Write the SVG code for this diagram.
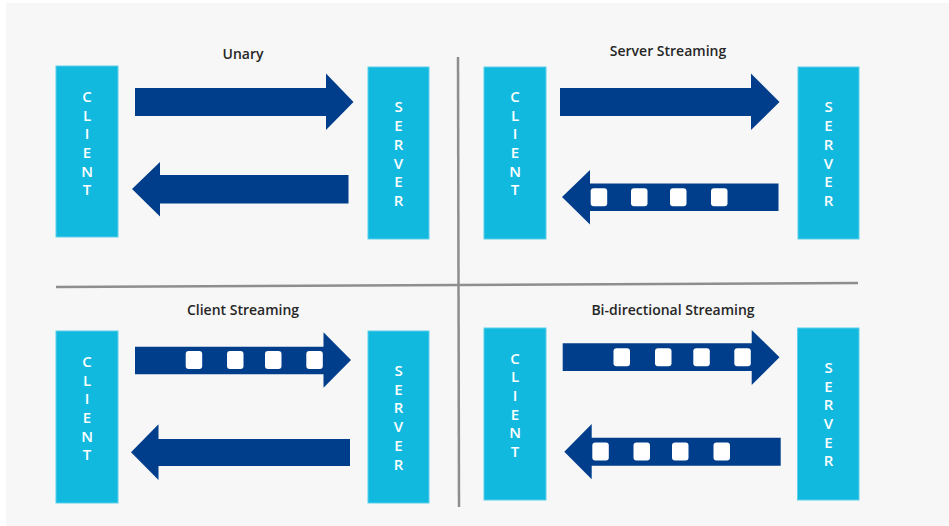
<svg xmlns="http://www.w3.org/2000/svg" width="949" height="526" viewBox="0 0 949 526">
  <style>
    .box { fill: #12b9df; stroke: #5ccfea; stroke-width: 1; }
    .arrow { fill: #003e8c; }
    .pkt { fill: #ffffff; }
    .title { font-family: "Open Sans", "Liberation Sans", sans-serif; font-weight: 600; font-size: 14px; fill: #262626; text-anchor: middle; }
    .vlabel { font-family: "Open Sans", "Liberation Sans", sans-serif; font-weight: 600; font-size: 15px; fill: #ffffff; text-anchor: middle; }
    .divider { stroke: #8e8e8e; stroke-width: 2.5; fill: none; }
  </style>
  <defs>
    <rect id="pkt" class="pkt" width="16.5" height="18" rx="3" ry="3"/>
  </defs>

  <!-- page -->
  <rect x="0" y="0" width="949" height="526" fill="#ffffff"/>
  <rect x="6" y="3" width="943" height="523" fill="#f7f7f7"/>

  <!-- quadrant dividers -->
  <g id="dividers">
    <line class="divider" x1="458" y1="57" x2="459" y2="507"/>
    <line class="divider" x1="56" y1="287" x2="858" y2="283"/>
  </g>

  <!-- titles -->
  <g id="titles">
    <text class="title" x="243" y="59">Unary</text>
    <text class="title" x="668" y="56">Server Streaming</text>
    <text class="title" x="243" y="315">Client Streaming</text>
    <text class="title" x="673" y="315">Bi-directional Streaming</text>
  </g>

  <!-- Unary -->
  <g id="unary-client">
    <rect class="box" x="56" y="66" width="62" height="171"/>
    <text class="vlabel" x="87" y="102">C</text>
    <text class="vlabel" x="87" y="120.5">L</text>
    <text class="vlabel" x="87" y="139">I</text>
    <text class="vlabel" x="87" y="158">E</text>
    <text class="vlabel" x="87" y="176.5">N</text>
    <text class="vlabel" x="87" y="195">T</text>
  </g>
  <g id="unary-server">
    <rect class="box" x="368" y="67" width="61" height="172"/>
    <text class="vlabel" x="398.5" y="112">S</text>
    <text class="vlabel" x="398.5" y="131">E</text>
    <text class="vlabel" x="398.5" y="149.5">R</text>
    <text class="vlabel" x="398.5" y="168.5">V</text>
    <text class="vlabel" x="398.5" y="187">E</text>
    <text class="vlabel" x="398.5" y="206">R</text>
  </g>

  <!-- Server Streaming -->
  <g id="ss-client">
    <rect class="box" x="484" y="67" width="62" height="172"/>
    <text class="vlabel" x="515" y="102">C</text>
    <text class="vlabel" x="515" y="120.5">L</text>
    <text class="vlabel" x="515" y="139">I</text>
    <text class="vlabel" x="515" y="158">E</text>
    <text class="vlabel" x="515" y="176.5">N</text>
    <text class="vlabel" x="515" y="195">T</text>
  </g>
  <g id="ss-server">
    <rect class="box" x="798" y="67" width="61" height="172"/>
    <text class="vlabel" x="828.5" y="112">S</text>
    <text class="vlabel" x="828.5" y="131">E</text>
    <text class="vlabel" x="828.5" y="149.5">R</text>
    <text class="vlabel" x="828.5" y="168.5">V</text>
    <text class="vlabel" x="828.5" y="187">E</text>
    <text class="vlabel" x="828.5" y="206">R</text>
  </g>

  <!-- Client Streaming -->
  <g id="cs-client">
    <rect class="box" x="56" y="331" width="62" height="172"/>
    <text class="vlabel" x="87" y="367">C</text>
    <text class="vlabel" x="87" y="385.5">L</text>
    <text class="vlabel" x="87" y="404">I</text>
    <text class="vlabel" x="87" y="423">E</text>
    <text class="vlabel" x="87" y="441.5">N</text>
    <text class="vlabel" x="87" y="460">T</text>
  </g>
  <g id="cs-server">
    <rect class="box" x="368" y="331" width="61" height="172"/>
    <text class="vlabel" x="398.5" y="376">S</text>
    <text class="vlabel" x="398.5" y="394.5">E</text>
    <text class="vlabel" x="398.5" y="413">R</text>
    <text class="vlabel" x="398.5" y="432">V</text>
    <text class="vlabel" x="398.5" y="450.5">E</text>
    <text class="vlabel" x="398.5" y="469.5">R</text>
  </g>

  <!-- Bi-directional Streaming -->
  <g id="bidi-client">
    <rect class="box" x="484" y="328" width="62" height="172"/>
    <text class="vlabel" x="515" y="363.5">C</text>
    <text class="vlabel" x="515" y="382">L</text>
    <text class="vlabel" x="515" y="400.5">I</text>
    <text class="vlabel" x="515" y="419.5">E</text>
    <text class="vlabel" x="515" y="438">N</text>
    <text class="vlabel" x="515" y="457">T</text>
  </g>
  <g id="bidi-server">
    <rect class="box" x="797.5" y="328" width="61.5" height="172"/>
    <text class="vlabel" x="828.5" y="373">S</text>
    <text class="vlabel" x="828.5" y="391.5">E</text>
    <text class="vlabel" x="828.5" y="410">R</text>
    <text class="vlabel" x="828.5" y="429">V</text>
    <text class="vlabel" x="828.5" y="447.5">E</text>
    <text class="vlabel" x="828.5" y="466">R</text>
  </g>

  <!-- connectors: block arrows, with message packets on streaming legs -->
  <g id="connectors">
    <!-- Unary -->
    <polygon class="arrow" points="135,88 326,88 326,73.5 353.5,102 326,130 326,116 135,116"/>
    <polygon class="arrow" points="348.5,175 160,175 160,162 132,189 160,216.5 160,203.5 348.5,203.5"/>

    <!-- Server Streaming -->
    <polygon class="arrow" points="560,88 751,88 751,73.5 779.5,102 751,130 751,116 560,116"/>
    <polygon class="arrow" points="778.5,183.5 590,183.5 590,170 562,197 590,224.5 590,211 778.5,211"/>
    <use href="#pkt" x="590.7" y="188.3"/>
    <use href="#pkt" x="631" y="188.3"/>
    <use href="#pkt" x="670" y="188.3"/>
    <use href="#pkt" x="711" y="188.3"/>

    <!-- Client Streaming -->
    <polygon class="arrow" points="135,346.7 323.5,346.7 323.5,332.3 351,360 323.5,387.7 323.5,374.3 135,374.3"/>
    <use href="#pkt" x="185.7" y="351"/>
    <use href="#pkt" x="227" y="351"/>
    <use href="#pkt" x="265" y="351"/>
    <use href="#pkt" x="306.3" y="351"/>
    <polygon class="arrow" points="350,439 158.5,439 158.5,424.3 131,452.3 158.5,480 158.5,466 350,466"/>

    <!-- Bi-directional Streaming -->
    <polygon class="arrow" points="562.7,343.3 751.7,343.3 751.7,330 779.5,357.3 751.7,385 751.7,371 562.7,371"/>
    <use href="#pkt" x="613.5" y="348.3"/>
    <use href="#pkt" x="655" y="348.3"/>
    <use href="#pkt" x="693.3" y="348.3"/>
    <use href="#pkt" x="734.3" y="348.3"/>
    <polygon class="arrow" points="780.7,437.7 591.7,437.7 591.7,424 564.3,451.7 591.7,479.3 591.7,465.7 780.7,465.7"/>
    <use href="#pkt" x="592.3" y="442.5"/>
    <use href="#pkt" x="633.5" y="442.5"/>
    <use href="#pkt" x="672" y="442.5"/>
    <use href="#pkt" x="713.5" y="442.5"/>
  </g>
</svg>
